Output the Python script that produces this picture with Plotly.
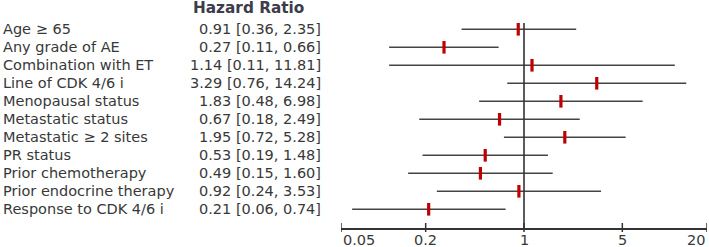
import plotly.graph_objects as go
import math

labels = ["Age \u2265 65", "Any grade of AE", "Combination with ET", "Line of CDK 4/6 i",
          "Menopausal status", "Metastatic status", "Metastatic \u2265 2 sites", "PR status",
          "Prior chemotherapy", "Prior endocrine therapy", "Response to CDK 4/6 i"]
hr = [0.91, 0.27, 1.14, 3.29, 1.83, 0.67, 1.95, 0.53, 0.49, 0.92, 0.21]
lo = [0.36, 0.11, 0.11, 0.76, 0.48, 0.18, 0.72, 0.19, 0.15, 0.24, 0.06]
hi = [2.35, 0.66, 11.81, 14.24, 6.98, 2.49, 5.28, 1.48, 1.60, 3.53, 0.74]
tick_vals = [0.05, 0.2, 1, 5, 20]
tick_text = ["0.05", "0.2", "1", "5", "20"]
header = "Hazard Ratio"

W, H = 709, 247
ML, MR, MT, MB = 341, 2, 23, 19
pw = W - ML - MR
ph = H - MT - MB
row_px = 18.0
first_off = 6.3
y_top = 1 - first_off / row_px
y_bot = y_top + ph / row_px

FONT = "DejaVu Sans"
FS = 14.5
TXT = "#383838"
rows = list(range(1, len(labels) + 1))

fig = go.Figure()
# CI lines
for i, r in enumerate(rows):
    fig.add_trace(go.Scatter(x=[lo[i], hi[i]], y=[r, r], mode="lines",
                             line=dict(color="#444444", width=1.6),
                             showlegend=False, hoverinfo="skip"))
# point estimates
fig.add_trace(go.Scatter(x=hr, y=rows, mode="markers",
                         marker=dict(symbol="line-ns", size=9,
                                     line=dict(color="#c00000", width=3.2)),
                         showlegend=False))

def px2paper_x(p):
    return (p - ML) / pw

def px2paper_y(p):
    return (H - MB - p) / ph

ann = []
for i, r in enumerate(rows):
    ann.append(dict(x=px2paper_x(1), xref="paper", y=r, yref="y", text=labels[i],
                    xanchor="left", yanchor="middle", showarrow=False,
                    font=dict(family=FONT, size=FS, color=TXT)))
    ann.append(dict(x=px2paper_x(323), xref="paper", y=r, yref="y",
                    text=f"{hr[i]:.2f} [{lo[i]:.2f}, {hi[i]:.2f}]",
                    xanchor="right", yanchor="middle", showarrow=False,
                    font=dict(family=FONT, size=FS, color=TXT)))
ann.append(dict(x=px2paper_x(248), xref="paper", y=px2paper_y(8), yref="paper",
                text="<b>" + header + "</b>", xanchor="center", yanchor="middle",
                showarrow=False, font=dict(family=FONT, size=15.3, color="#3c3c4c")))
for k, (v, t) in enumerate(zip(tick_vals, tick_text)):
    anchor = "left" if k == 0 else ("right" if k == len(tick_vals) - 1 else "center")
    ann.append(dict(x=math.log10(v), xref="x", y=px2paper_y(240), yref="paper", text=t,
                    xanchor=anchor, yanchor="middle", showarrow=False,
                    font=dict(family=FONT, size=FS, color=TXT)))

shapes = [dict(type="line", xref="x", yref="paper", x0=1, x1=1, y0=0, y1=1,
               line=dict(color="#333333", width=1.6))]
for v in tick_vals:
    shapes.append(dict(type="line", xref="x", yref="paper", x0=v, x1=v,
                       y0=-4.0 / ph, y1=5.0 / ph, line=dict(color="#333333", width=1.5)))

fig.update_layout(
    width=W, height=H,
    margin=dict(l=ML, r=MR, t=MT, b=MB, pad=0),
    paper_bgcolor="white", plot_bgcolor="white",
    annotations=ann, shapes=shapes,
    xaxis=dict(type="log", range=[math.log10(0.05), math.log10(20)],
               showgrid=False, zeroline=False, showline=True, linecolor="#333333",
               linewidth=1.5, showticklabels=False, ticks=""),
    yaxis=dict(range=[y_bot, y_top], showgrid=False, zeroline=False,
               showline=False, showticklabels=False, ticks=""),
)

fig.write_html("out.html", config={"displayModeBar": False},
               post_script="document.body.style.margin='0';document.body.style.overflow='hidden';")
